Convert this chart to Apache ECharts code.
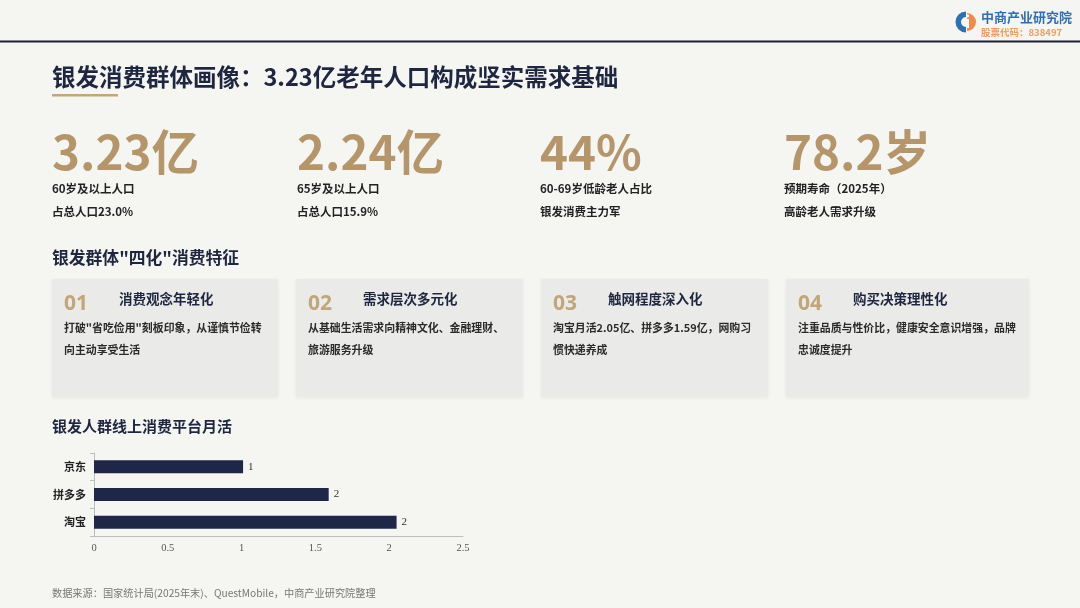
<!DOCTYPE html>
<html>
<head>
<meta charset="utf-8">
<script src="https://cdn.jsdelivr.net/npm/echarts@6/dist/echarts.min.js"></script>
<style>
html,body{margin:0;padding:0;background:#f5f5f2;}
#chart{width:1080px;height:608px;}
</style>
</head>
<body>
<div id="chart"></div>
<script>
// ---- data ----
const pageTitle = '银发消费群体画像：3.23亿老年人口构成坚实需求基础';
const kpiValues = ['3.23亿', '2.24亿', '44%', '78.2岁'];
const kpiLine1 = ['60岁及以上人口', '65岁及以上人口', '60-69岁低龄老人占比', '预期寿命（2025年）'];
const kpiLine2 = ['占总人口23.0%', '占总人口15.9%', '银发消费主力军', '高龄老人需求升级'];
const sectionTitle = '银发群体"四化"消费特征';
const cardNums = ['01', '02', '03', '04'];
const cardTitles = ['消费观念年轻化', '需求层次多元化', '触网程度深入化', '购买决策理性化'];
const cardDesc1 = ['打破"省吃俭用"刻板印象，从谨慎节俭转', '从基础生活需求向精神文化、金融理财、', '淘宝月活2.05亿、拼多多1.59亿，网购习', '注重品质与性价比，健康安全意识增强，品牌'];
const cardDesc2 = ['向主动享受生活', '旅游服务升级', '惯快递养成', '忠诚度提升'];
const chartTitle = '银发人群线上消费平台月活';
const platforms = ['淘宝', '拼多多', '京东'];
const mau = [2.05, 1.59, 1.01];
const sourceNote = '数据来源：国家统计局(2025年末)、QuestMobile，中商产业研究院整理';
const logoName = '中商产业研究院';
const logoCode = '股票代码：838497';

// ---- layout ----
const SANS = '"Noto Sans CJK SC", "Noto Sans", sans-serif';
const SERIF = '"Liberation Serif", "DejaVu Serif", serif';
const NAVY = '#1e2640';
const GOLD = '#b5966b';
const kpiX = [52, 297, 540, 784];
const cardX = [52, 296, 541, 786];
const cardW = [226, 227, 227, 243];
const cardY = 279, cardH = 118;

const g = [];
g.push({type:'rect', shape:{x:0,y:0,width:1080,height:608}, style:{fill:'#f5f5f2'}, silent:true, z:-10});
// top rule
g.push({type:'rect', shape:{x:0,y:40.5,width:1080,height:2}, style:{fill:'#1c2233'}});
// logo icon
g.push({type:'sector', shape:{cx:966,cy:22,r:10.5,r0:5,startAngle:Math.PI*0.5,endAngle:Math.PI*1.5}, style:{fill:'#2f6fb6'}});
g.push({type:'sector', shape:{cx:967,cy:22,r:9,r0:0,startAngle:-Math.PI*0.5,endAngle:Math.PI*0.5}, style:{fill:'#ef8a4a'}});
g.push({type:'rect', shape:{x:966.5,y:19,width:2.5,height:9}, style:{fill:'#ffffff'}});
g.push({type:'circle', shape:{cx:967.7,cy:16,r:1.4}, style:{fill:'#ffffff'}});
g.push({type:'text', x:981, y:17, style:{text:logoName, font:'bold 13px '+SANS, fill:'#2f6fb6', verticalAlign:'middle'}});
g.push({type:'text', x:981, y:32, style:{text:logoCode, font:'bold 9.5px '+SANS, fill:'#f19a5e', verticalAlign:'middle'}});

// title
g.push({type:'text', x:52, y:77, style:{text:pageTitle, font:'bold 23.5px '+SANS, fill:NAVY, verticalAlign:'middle'}});
g.push({type:'rect', shape:{x:52,y:94,width:66,height:2.5}, style:{fill:'#c6a676'}});

// KPIs
for (let i = 0; i < 4; i++) {
  g.push({type:'text', x:kpiX[i], y:152, style:{text:kpiValues[i], font:'bold 47.5px '+SANS, fill:GOLD, verticalAlign:'middle'}});
  g.push({type:'text', x:kpiX[i], y:189, style:{text:kpiLine1[i], font:'bold 11.5px '+SANS, fill:'#222', verticalAlign:'middle'}});
  g.push({type:'text', x:kpiX[i], y:212, style:{text:kpiLine2[i], font:'bold 11.5px '+SANS, fill:'#222', verticalAlign:'middle'}});
}

// section heading
g.push({type:'text', x:52, y:258, style:{text:sectionTitle, font:'bold 16.8px '+SANS, fill:NAVY, verticalAlign:'middle'}});

// cards
for (let i = 0; i < 4; i++) {
  const x = cardX[i];
  g.push({type:'rect', shape:{x:x,y:cardY,width:cardW[i],height:cardH}, style:{fill:'#eaeae8', shadowBlur:4, shadowColor:'rgba(0,0,0,0.06)', shadowOffsetY:1}});
  g.push({type:'text', x:x+12, y:304, style:{text:cardNums[i], font:'bold 21px "Noto Sans", '+SANS, fill:'#c1a67b', verticalAlign:'middle'}});
  g.push({type:'text', x:x+67, y:299, style:{text:cardTitles[i], font:'bold 13.5px '+SANS, fill:NAVY, verticalAlign:'middle'}});
  g.push({type:'text', x:x+12, y:328, style:{text:cardDesc1[i], font:'bold 10.9px '+SANS, fill:'#2b2b2b', verticalAlign:'middle'}});
  g.push({type:'text', x:x+12, y:350, style:{text:cardDesc2[i], font:'bold 10.9px '+SANS, fill:'#2b2b2b', verticalAlign:'middle'}});
}

// chart title
g.push({type:'text', x:52, y:426, style:{text:chartTitle, font:'bold 15px '+SANS, fill:NAVY, verticalAlign:'middle'}});
// source
g.push({type:'text', x:52, y:593, style:{text:sourceNote, font:'10.2px '+SANS, fill:'#777', verticalAlign:'middle'}});

const chart = echarts.init(document.getElementById('chart'), null, {renderer:'canvas'});
chart.setOption({
  backgroundColor:'#f5f5f2',
  animation:false,
  graphic:{elements:g},
  grid:{left:94, right:617, top:453, bottom:72, containLabel:false},
  xAxis:{
    type:'value', min:0, max:2.5, interval:0.5,
    splitLine:{show:false},
    axisLine:{show:true, lineStyle:{color:'#bdbdbd', width:1}},
    axisTick:{show:false},
    axisLabel:{fontFamily:SERIF, fontSize:10.5, color:'#555', margin:7}
  },
  yAxis:{
    type:'category', data:platforms,
    axisLine:{show:true, lineStyle:{color:'#bdbdbd', width:1}},
    axisTick:{show:true, length:4, lineStyle:{color:'#bdbdbd'}},
    axisLabel:{fontFamily:SANS, fontWeight:'bold', fontSize:11, color:'#222', margin:8}
  },
  series:[{
    type:'bar', data:mau, barWidth:13,
    itemStyle:{color:'#1f2748'},
    label:{show:true, position:'right', distance:5, fontFamily:SERIF, fontSize:11, color:'#333',
      formatter:function(p){return Math.round(p.value).toString();}}
  }]
});
</script>
</body>
</html>
